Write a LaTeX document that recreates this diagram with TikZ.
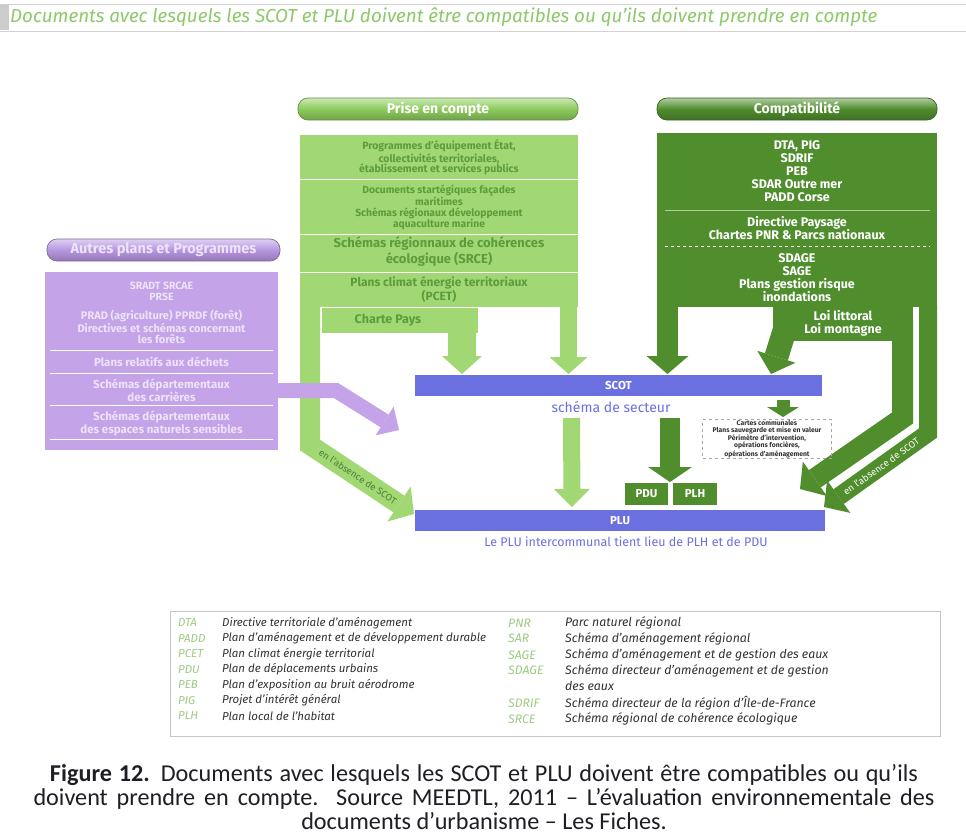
\documentclass[tikz,border=0pt]{standalone}
\usepackage{fontspec}
\setmainfont{Fira Sans}
\newfontfamily\capfont{Carlito}
\usetikzlibrary{arrows.meta}
\newcommand\fsz[2]{\fontsize{#1}{#2}\selectfont}
\definecolor{lg}{HTML}{A2D874}
\definecolor{lgt}{HTML}{5C9C3E}
\definecolor{lgp}{HTML}{8CCB5C}
\definecolor{dg}{HTML}{4F8D2D}
\definecolor{pu}{HTML}{C4A3E8}
\definecolor{put}{HTML}{EDE3F9}
\definecolor{pup}{HTML}{B796E0}
\definecolor{bl}{HTML}{6B70E0}
\definecolor{tit}{HTML}{8DC86A}
\definecolor{abcol}{HTML}{9DCB82}
\definecolor{legtx}{HTML}{333333}
\definecolor{captx}{HTML}{1E1E26}
\begin{document}
\begin{tikzpicture}[x=1pt,y=-1pt,
  pill/.style={rounded corners=10pt, draw=#1!70!black, line width=0.7pt,
    top color=#1!45!white, bottom color=#1!80!black, middle color=#1,
    minimum height=22pt, inner sep=0pt, text=white, font=\bfseries\fsz{14}{14}},
  gtxt/.style={align=center, inner sep=0pt, text=lgt},
  dtxt/.style={align=center, inner sep=0pt, text=white},
  ptxt/.style={align=center, inner sep=0pt, text=put, font=\bfseries\fsz{11.5}{11.5}},
  sep/.style={draw=white, line width=0.9pt},
  fat/.style n args={4}{draw=#1, line width=#2, line join=miter,
    -{Triangle[length=#3, width=#4, line width=0pt]}},
  bar/.style={fill=bl, text=white, inner sep=0pt, minimum height=21pt, font=\bfseries\fsz{11.5}{11.5}},
  small/.style={fill=dg, text=white, inner sep=0pt, minimum height=22pt, font=\bfseries\fsz{11.5}{11.5}},
  ab/.style={anchor=west, inner sep=0pt, text=abcol, font=\itshape\fsz{11.5}{12}},
  de/.style={anchor=west, inner sep=0pt, text=legtx, font=\itshape\fsz{11.5}{12}},
  abr/.style={ab, font=\itshape\fsz{12.3}{12.5}},
  der/.style={de, font=\itshape\fsz{12.3}{12.5}},
  absence/.style={inner sep=0pt, font=\fsz{9.5}{9.5}}
]
\useasboundingbox (0,0) rectangle (966,838);
\fill[white] (0,0) rectangle (966,838);

% title band
\draw[gray!35, line width=0.8pt] (0,4) -- (966,4);
\draw[gray!35, line width=0.8pt] (0,31) -- (966,31);
\fill[gray!40] (0,5) rectangle (9,30);
\node[anchor=west, inner sep=0pt, text=tit, font=\itshape\fsz{18.8}{19}] (title) at (10,17.5)
  {Documents avec lesquels les SCOT et PLU doivent être compatibles ou qu’ils doivent prendre en compte};

% ================= light green column =================
\node[pill=lgp, minimum width=280pt] (pprise) at (438,109) {Prise en compte};
\fill[lg] (300,135) rectangle (578,306.5);
\fill[lg] (321.5,308) rectangle (478,333);
\coordinate (lgL0) at (310,306);
\coordinate (lgL1) at (310,445);
\coordinate (lgL2) at (414,514);
\coordinate (cpA) at (462,326);
\coordinate (cpB) at (462,374);
\coordinate (lgR0) at (568.5,306);
\coordinate (lgR1) at (568.5,374);
\draw[fat={lg}{20pt}{18pt}{42pt}] (lgL0) -- (lgL1) -- (lgL2);
\draw[fat={lg}{28pt}{18pt}{40pt}] (cpA) -- (cpB);
\draw[fat={lg}{17pt}{17pt}{38pt}] (lgR0) -- (lgR1);
\path (lgL1) -- (lgL2) node[pos=0.46, sloped, absence, text=lgt!80!black] (abs1) {en l’absence de SCOT};

\draw[sep] (300,179) -- (578,179);
\draw[sep] (300,234) -- (578,234);
\draw[sep] (300,272) -- (578,272);

\node[gtxt, font=\bfseries\fsz{10.5}{10.8}] (g1) at (439,157.5)
  {Programmes d’équipement État,\\collectivités territoriales,\\établissement et services publics};
\node[gtxt, font=\bfseries\fsz{10.3}{10.4}] (g2) at (439,207.5)
  {Documents startégiques façades\\maritimes\\Schémas régionaux développement\\aquaculture marine};
\node[gtxt, font=\bfseries\fsz{13}{13}] (g3) at (439,251.5)
  {Schémas régionnaux de cohérences\\écologique (SRCE)};
\node[gtxt, font=\bfseries\fsz{12}{12}] (g4) at (439,289)
  {Plans climat énergie territoriaux\\(PCET)};
\node[gtxt, font=\bfseries\fsz{12.5}{12.5}] (g5) at (388,320) {Charte Pays};

% ================= dark green column =================
\node[pill=dg, minimum width=280pt] (pcompat) at (797,109) {Compatibilité};
\fill[dg] (657,133) rectangle (937,307);
\fill[dg] (773,306) rectangle (913,341);
\coordinate (dgL0) at (667.5,306);
\coordinate (dgL1) at (667.5,374);
\coordinate (loiA) at (786,326);
\coordinate (loiB) at (771,374);
\coordinate (dA0) at (902.5,320);
\coordinate (dA1) at (902.5,418);
\coordinate (dA2) at (800,489);
\coordinate (dB0) at (928,306);
\coordinate (dB1) at (928,433);
\coordinate (dB2) at (824,507);
\draw[fat={dg}{21pt}{18pt}{42pt}] (dgL0) -- (dgL1);
\draw[fat={dg}{24pt}{18pt}{40pt}] (loiA) -- (loiB);
\draw[fat={dg}{21pt}{18pt}{42pt}] (dA0) -- (dA1) -- (dA2);
\draw[fat={dg}{18pt}{18pt}{40pt}] (dB0) -- (dB1) -- (dB2);
\path (dB1) -- (dB2) node[pos=0.45, sloped, absence, text=white] (abs2) {en l’absence de SCOT};

\draw[draw=white!55!dg, line width=0.6pt] (665,210) -- (930,210);
\draw[draw=white, line width=0.8pt, dashed] (665,246) -- (930,246);

\node[dtxt, font=\bfseries\fsz{12.5}{13}] (d1) at (797,171)
  {DTA, PIG\\SDRIF\\PEB\\SDAR Outre mer\\PADD Corse};
\node[dtxt, font=\bfseries\fsz{12.5}{12.5}] (d2) at (797,228)
  {Directive Paysage\\Chartes PNR \& Parcs nationaux};
\node[dtxt, font=\bfseries\fsz{12.5}{13}] (d3) at (797,277.5)
  {SDAGE\\SAGE\\Plans gestion risque\\inondations};
\node[dtxt, font=\bfseries\fsz{12.5}{13}] (d4) at (843,323)
  {Loi littoral\\Loi montagne};

% ================= purple column =================
\node[pill=pup, minimum width=233pt, text=put, font=\bfseries\fsz{14.5}{14.5}] (pautres) at (163.5,250) {Autres plans et Programmes};
\fill[pu] (45,272) rectangle (278,450);
\draw[sep] (50,350) -- (273,350);
\draw[sep] (50,373) -- (273,373);
\draw[sep] (50,405) -- (273,405);
\draw[sep] (50,439) -- (273,439);
\node[ptxt, font=\bfseries\fsz{10.5}{10.8}] (p1) at (161.5,291) {SRADT SRCAE\\PRSE};
\node[ptxt, font=\bfseries\fsz{11}{11}] (p2) at (161.5,327) {PRAD (agriculture) PPRDF (forêt)\\Directives et schémas concernant\\les forêts};
\node[ptxt] (p3) at (161.5,362) {Plans relatifs aux déchets};
\node[ptxt, font=\bfseries\fsz{11.5}{11.5}] (p4) at (161.5,390) {Schémas départementaux\\des carrières};
\node[ptxt, font=\bfseries\fsz{11.5}{11.5}] (p5) at (161.5,423.5) {Schémas départementaux\\des espaces naturels sensibles};
\coordinate (pu0) at (277,390.5);
\coordinate (pu1) at (336,390.5);
\coordinate (pu2) at (399,430);
\draw[fat={pu}{15pt}{17pt}{34pt}] (pu0) -- (pu1) -- (pu2);

% ================= SCOT / PLU =================
\node[bar, minimum width=407pt] (scot) at (618.5,385.5) {SCOT};
\node[inner sep=0pt, text=bl, font=\fsz{14}{14}] (secteur) at (611,407) {schéma de secteur};

\coordinate (s1) at (571.5,418);
\coordinate (s2) at (572,507);
\coordinate (s3) at (670,418);
\coordinate (s4) at (670,482);
\coordinate (s5) at (783,400);
\coordinate (s6) at (783,417);
\draw[fat={lg}{17pt}{18pt}{36pt}] (s1) -- (s2);
\draw[fat={dg}{20pt}{15pt}{44pt}] (s3) -- (s4);
\draw[fat={dg}{13pt}{10pt}{32pt}] (s5) -- (s6);

\node[draw=gray!70, dashed, line width=0.5pt, minimum width=129pt, minimum height=39pt, inner sep=0pt] (cartes) at (767,439) {};
\node[align=center, inner sep=0pt, text=legtx, font=\bfseries\fsz{6.8}{7}] (cartestxt) at (cartes.center)
  {Cartes communales\\Plans sauvegarde et mise en valeur\\Périmètre d’intervention,\\opérations foncières,\\opérations d’aménagement};

\node[small, minimum width=43pt] (pdu) at (646.5,494) {PDU};
\node[small, minimum width=44pt] (plh) at (695,494) {PLH};

\node[bar, minimum width=410pt] (plu) at (620,520.5) {PLU};
\node[inner sep=0pt, text=bl, font=\fsz{12.5}{12.5}] (inter) at (626,542) {Le PLU intercommunal tient lieu de PLH et de PDU};

% ================= legend =================
\draw[gray!45, line width=0.7pt] (170,611) rectangle (940,736);
\node[ab] (a1) at (178,623) {DTA};
\node[ab] (a2) at (178,638.5) {PADD};
\node[ab] (a3) at (178,654) {PCET};
\node[ab] (a4) at (178,669.5) {PDU};
\node[ab] (a5) at (178,685) {PEB};
\node[ab] (a6) at (178,700.5) {PIG};
\node[ab] (a7) at (178,716) {PLH};
\node[de] (e1) at (222,623) {Directive territoriale d’aménagement};
\node[de] (e2) at (222,638.5) {Plan d’aménagement et de développement durable};
\node[de] (e3) at (222,654) {Plan climat énergie territorial};
\node[de] (e4) at (222,669.5) {Plan de déplacements urbains};
\node[de] (e5) at (222,685) {Plan d’exposition au bruit aérodrome};
\node[de] (e6) at (222,700.5) {Projet d’intérêt général};
\node[de] (e7) at (222,716) {Plan local de l’habitat};

\node[abr] (b1) at (508,623) {PNR};
\node[abr] (b2) at (508,638.5) {SAR};
\node[abr] (b3) at (508,655) {SAGE};
\node[abr] (b4) at (508,670.5) {SDAGE};
\node[abr] (b5) at (508,703) {SDRIF};
\node[abr] (b6) at (508,719) {SRCE};
\node[der] (f1) at (565,623) {Parc naturel régional};
\node[der] (f2) at (565,638.5) {Schéma d’aménagement régional};
\node[der] (f3) at (565,655) {Schéma d’aménagement et de gestion des eaux};
\node[der] (f4) at (565,670.5) {Schéma directeur d’aménagement et de gestion};
\node[der] (f4b) at (565,686) {des eaux};
\node[der] (f5) at (565,703) {Schéma directeur de la région d’Île-de-France};
\node[der] (f6) at (565,719) {Schéma régional de cohérence écologique};

% ================= caption =================
\node[align=center, inner sep=0pt, text=captx, font=\capfont\fsz{24.2}{23.6}] (caption) at (484,797)
  {\makebox[868pt][s]{\textbf{Figure 12.} Documents avec lesquels les SCOT et PLU doivent être compatibles ou qu’ils}\\
   \makebox[901pt][s]{doivent prendre en compte. Source MEEDTL, 2011 – L’évaluation environnementale des}\\
   documents d’urbanisme – Les Fiches.};
\end{tikzpicture}
\end{document}
